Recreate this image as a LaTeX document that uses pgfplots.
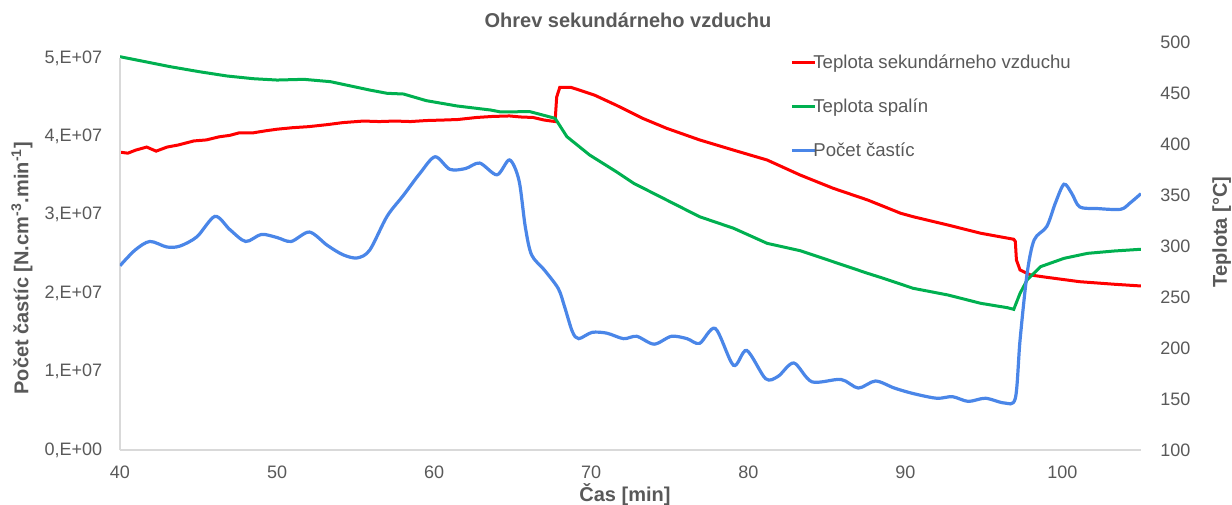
\documentclass[border=0pt]{standalone}
\usepackage{pgfplots}
\pgfplotsset{compat=1.18}
\usepackage{fontspec}
\setmainfont{Liberation Sans}
\definecolor{txt}{HTML}{595959}
\definecolor{axgray}{HTML}{D9D9D9}
\definecolor{cred}{HTML}{FF0000}
\definecolor{cgreen}{HTML}{00B050}
\definecolor{cblue}{HTML}{4A86E8}

\begin{document}
\begin{tikzpicture}
\path[use as bounding box] (-60pt,-27pt) rectangle (556pt,225pt);
% right axis: temperatures
\begin{axis}[
    scale only axis, width=510.5pt, height=204pt,
    xmin=40, xmax=105, ymin=100, ymax=500,
    hide x axis, axis y line*=right,
    y axis line style={draw=none},
    ytick={100,150,...,500}, major tick length=0pt,
    /pgf/number format/assume math mode=true,
    yticklabel style={anchor=west, xshift=9.5pt, inner sep=0pt,
        font=\fontsize{9}{10}\selectfont, text=txt},
    ylabel={Teplota [°C]},
    ylabel style={at={(axis description cs:1.079,0.534)}, anchor=center,
        font=\bfseries\fontsize{10}{12}\selectfont, text=txt},
    legend style={at={(axis description cs:0.656,0.975)}, anchor=north west,
        draw=none, fill=none, inner sep=0pt, row sep=11.6pt,
        font=\fontsize{9.3}{11}\selectfont, text=txt,
        nodes={inner sep=1pt}},
    legend cell align=left,
    legend image code/.code={
        \draw[#1] (0pt,0pt) -- (9pt,0pt);
        \draw[#1, overlay] (8.5pt,0pt) -- (11.5pt,0pt);},
]
\addplot[cred, line width=1.5pt] coordinates {
(40,392)(40.5,391)(41,394)(41.7,397)(42.3,393)(43,397)(43.7,399)(44.7,403)
(45.5,404)(46.3,407)(47,408.5)(47.6,411)(48.5,411)(49.3,413)(50,414.5)
(51,416)(52,417)(53.2,419)(54.2,421)(55.5,422.5)(56.5,422)(57.5,422.5)
(58.5,422)(59.5,423)(60.6,423.5)(61.5,424)(62.7,426)(63.7,427)(64.8,427.5)
(65.5,426.5)(66.3,426)(67,423.5)(67.7,422)(67.8,446)(68,455.6)(68.7,455.6)
(70.2,448)(71.6,438)(73.3,425)(74.8,415.4)(76.9,404)(79.06,394)(81.2,384.3)
(83.3,369.6)(85.4,356.6)(87.6,345.1)(89.7,332.1)(90.5,328.7)(92.7,320.6)
(94.8,312.5)(96.9,306.6)(97.0,304.4)(97.07,286.3)(97.3,276.5)(97.96,271.6)
(99,269.3)(101.1,265)(103.3,262.5)(105,260.8)
};
\addlegendentry{Teplota sekundárneho vzduchu}
\addplot[cgreen, line width=1.5pt] coordinates {
(40,485.6)(41.5,481)(43.2,475.8)(45,471)(46.8,466.7)(48.5,464)(50,462.7)
(51.7,463.4)(53.4,461.1)(55.9,452.9)(57,449.7)(58.05,449)(59.5,442.5)
(61.45,437.3)(63.6,433.3)(64.2,431.5)(66.1,431.7)(67.7,425.2)(68.45,407.2)
(69.9,389.2)(71.6,372.8)(72.7,361.5)(74.8,345.1)(76.9,328.7)(79.06,317.4)
(81.2,302.6)(83.3,295.4)(85.4,284.6)(87.6,273.2)(88.4,269.3)(90.5,258.5)
(92.7,252)(94.8,243.8)(96.5,239.5)(96.9,237.9)(97.3,253.6)(97.75,266.7)
(98.6,279.7)(100.1,287.9)(101.6,292.8)(103.3,295.1)(105,296.8)
};
\addlegendentry{Teplota spalín}
\addlegendimage{cblue, line width=1.6pt}
\addlegendentry{Počet častíc}
\end{axis}
% left axis: particle count
\begin{axis}[
    scale only axis, width=510.5pt, height=196pt,
    xmin=40, xmax=105, ymin=0, ymax=5e7,
    xtick={40,50,...,100},
    ytick={0,1e7,2e7,3e7,4e7,5e7},
    yticklabels={{0,E+00},{1,E+07},{2,E+07},{3,E+07},{4,E+07},{5,E+07}},
    scaled y ticks=false,
    axis x line*=bottom, axis y line*=left,
    axis line style={axgray, line width=0.8pt, -},
    major tick length=0pt,
    /pgf/number format/assume math mode=true,
    tick label style={font=\fontsize{9}{10}\selectfont, text=txt, inner sep=0pt},
    yticklabel style={anchor=east, xshift=-8.75pt},
    xticklabel style={anchor=north, yshift=-8pt},
    title={Ohrev sekundárneho vzduchu},
    title style={at={(axis description cs:0.4975,1.066)}, anchor=center,
        font=\bfseries\fontsize{10}{12}\selectfont, text=txt},
    xlabel={Čas [min]},
    xlabel style={at={(axis description cs:0.4946,-0.114)}, anchor=center,
        font=\bfseries\fontsize{10}{12}\selectfont, text=txt},
    ylabel={Počet častíc [N.cm\textsuperscript{-3}.min\textsuperscript{-1}]},
    ylabel style={at={(axis description cs:-0.096,0.464)}, anchor=center,
        font=\bfseries\fontsize{10}{12}\selectfont, text=txt},
]
\addplot[cblue, line width=1.6pt, smooth, tension=0.5] coordinates {
(40,2.35e7)(40.96,2.55e7)(41.9,2.66e7)(42.97,2.59e7)(43.8,2.60e7)(44.9,2.72e7)
(46.05,2.98e7)(47.0,2.81e7)(48.0,2.66e7)(49.0,2.75e7)(50.0,2.71e7)(50.9,2.66e7)
(52.06,2.78e7)(53.2,2.61e7)(54.2,2.49e7)(55.1,2.45e7)(55.9,2.55e7)(57.0,2.98e7)
(58.05,3.25e7)(59.1,3.53e7)(60.06,3.74e7)(61.0,3.58e7)(62.0,3.59e7)(62.9,3.66e7)
(64.0,3.51e7)(64.8,3.70e7)(65.4,3.44e7)(65.8,2.85e7)(66.2,2.49e7)(67.0,2.30e7)
(67.9,2.06e7)(68.3,1.83e7)(68.8,1.51e7)(69.2,1.42e7)(70.05,1.50e7)(71.0,1.49e7)
(72.06,1.42e7)(72.9,1.45e7)(74.0,1.35e7)(75.1,1.45e7)(76.1,1.42e7)(76.9,1.36e7)
(77.9,1.55e7)(79.06,1.08e7)(79.9,1.27e7)(81.1,0.91e7)(81.9,0.94e7)(82.9,1.11e7)
(84.05,0.87e7)(85.9,0.90e7)(87.0,0.79e7)(88.1,0.88e7)(89.3,0.79e7)(90.5,0.72e7)
(92.0,0.66e7)(93.0,0.68e7)(94.0,0.62e7)(95.1,0.66e7)(96.3,0.60e7)(97.0,0.66e7)
(97.3,1.40e7)(97.75,2.25e7)(98.2,2.68e7)(99.0,2.85e7)(99.55,3.15e7)(100.1,3.39e7)
(100.6,3.27e7)(101.1,3.10e7)(102.2,3.08e7)(103.7,3.07e7)(104.3,3.15e7)(105,3.27e7)
};
\end{axis}
\end{tikzpicture}
\end{document}
